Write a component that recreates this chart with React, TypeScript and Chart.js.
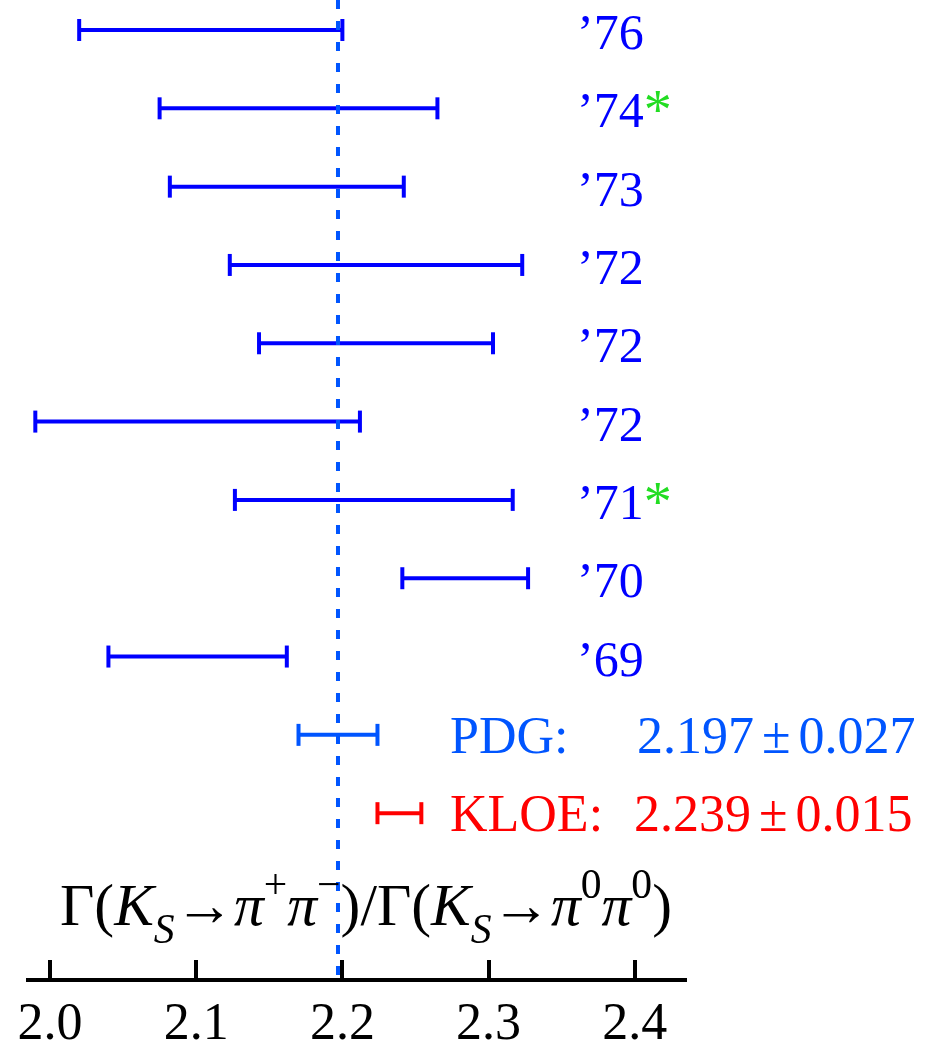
import { useEffect, useRef } from "react";
import { Chart, registerables } from "chart.js";

Chart.register(...registerables);

// Measurements, top to bottom
const rowLabels = ["’76", "’74", "’73", "’72", "’72", "’72", "’71", "’70", "’69"];
const flagged = [false, true, false, false, false, false, true, false, false];
const centers = [2.11, 2.17, 2.162, 2.223, 2.223, 2.101, 2.2215, 2.284, 2.101];
const errors = [0.09, 0.095, 0.08, 0.1, 0.08, 0.111, 0.095, 0.043, 0.061];

// Reference values
const pdgValue = 2.197;
const pdgError = 0.027;
const kloeValue = 2.239;
const kloeError = 0.015;

const xTicks = [2.0, 2.1, 2.2, 2.3, 2.4];
const xMin = 1.985;
const xMax = 2.435;
const yMin = -0.383;
const yMax = 12.13;

const SERIF = "'Liberation Serif', 'Times New Roman', serif";
const BLUE = "#0000ff";
const PDG_BLUE = "#0055ff";
const RED = "#ff0000";
const GREEN = "#22dd22";

function errorBar(c: number, e: number, row: number, color: string) {
  return {
    data: [
      { x: c - e, y: row },
      { x: c + e, y: row },
    ],
    showLine: true,
    borderColor: color,
    borderWidth: 4,
    pointStyle: "line",
    rotation: 90,
    pointRadius: 11,
    pointHoverRadius: 11,
    pointBorderWidth: 4,
    pointBorderColor: color,
    pointBackgroundColor: color,
  };
}

type Piece = { t: string; it?: boolean; pos?: "sub" | "sup" };

const titlePieces: Piece[] = [
  { t: "Γ(" },
  { t: "K", it: true },
  { t: "S", it: true, pos: "sub" },
  { t: "→" },
  { t: "π", it: true },
  { t: "+", pos: "sup" },
  { t: "π", it: true },
  { t: "−", pos: "sup" },
  { t: ")/Γ(" },
  { t: "K", it: true },
  { t: "S", it: true, pos: "sub" },
  { t: "→" },
  { t: "π", it: true },
  { t: "0", pos: "sup" },
  { t: "π", it: true },
  { t: "0", pos: "sup" },
  { t: ")" },
];

function pieceFont(p: Piece, size: number) {
  const s = p.pos ? size * 0.7 : size;
  return `${p.it ? "italic " : ""}${s}px ${SERIF}`;
}

function drawTitle(ctx: CanvasRenderingContext2D, left: number, right: number, baseline: number) {
  const base = 48;
  let total = 0;
  for (const p of titlePieces) {
    ctx.font = pieceFont(p, base);
    total += ctx.measureText(p.t).width;
  }
  const size = (base * (right - left)) / total;
  let x = left;
  ctx.fillStyle = "#000";
  ctx.textBaseline = "alphabetic";
  ctx.textAlign = "left";
  for (const p of titlePieces) {
    ctx.font = pieceFont(p, size);
    let yy = baseline;
    if (p.pos === "sub") yy += size * 0.3;
    if (p.pos === "sup") yy -= size * 0.45;
    ctx.fillText(p.t, x, yy);
    x += ctx.measureText(p.t).width;
  }
}

// value ± error, with the ± given a wide box like in math typesetting
function drawValue(ctx: CanvasRenderingContext2D, v: number, e: number, x: number, y: number) {
  const a = v.toFixed(3);
  const b = e.toFixed(3);
  ctx.fillText(a, x, y);
  let cx = x + ctx.measureText(a).width + 8;
  ctx.fillText("±", cx, y);
  cx += ctx.measureText("±").width + 8;
  ctx.fillText(b, cx, y);
}

const overlay = {
  id: "overlay",
  afterDraw(chart: any) {
    const { ctx, chartArea, scales } = chart;
    const xs = scales.x;
    const ys = scales.y;
    ctx.save();

    // tick marks pointing up from the axis line
    ctx.strokeStyle = "#000";
    ctx.lineWidth = 4;
    for (const v of xTicks) {
      const px = Math.round(xs.getPixelForValue(v));
      ctx.beginPath();
      ctx.moveTo(px, chartArea.bottom);
      ctx.lineTo(px, chartArea.bottom - 20);
      ctx.stroke();
    }

    // experiment years
    ctx.textAlign = "left";
    ctx.textBaseline = "alphabetic";
    rowLabels.forEach((lab, i) => {
      const py = ys.getPixelForValue(i);
      ctx.font = `50px ${SERIF}`;
      ctx.fillStyle = BLUE;
      ctx.fillText(lab, 577, py + 19);
      if (flagged[i]) {
        const w = ctx.measureText(lab).width;
        ctx.font = `56px ${SERIF}`;
        ctx.fillStyle = GREEN;
        ctx.fillText("*", 577 + w, py + 21);
      }
    });

    // reference values
    const pdgY = ys.getPixelForValue(rowLabels.length);
    const kloeY = ys.getPixelForValue(rowLabels.length + 1);
    ctx.font = `52px ${SERIF}`;
    ctx.fillStyle = PDG_BLUE;
    ctx.fillText("PDG:", 450, pdgY + 18);
    drawValue(ctx, pdgValue, pdgError, 637, pdgY + 18);
    ctx.fillStyle = RED;
    ctx.fillText("KLOE:", 450, kloeY + 18);
    drawValue(ctx, kloeValue, kloeError, 634, kloeY + 18);

    drawTitle(ctx, 60, 672, 925);
    ctx.restore();
  },
};

export default function App() {
  const ref = useRef<HTMLCanvasElement | null>(null);

  useEffect(() => {
    if (!ref.current) return;
    const datasets: any[] = rowLabels.map((_, i) => errorBar(centers[i], errors[i], i, BLUE));
    datasets.push(errorBar(pdgValue, pdgError, rowLabels.length, PDG_BLUE));
    datasets.push(errorBar(kloeValue, kloeError, rowLabels.length + 1, RED));
    datasets.push({
      data: [
        { x: pdgValue, y: yMin },
        { x: pdgValue, y: yMax },
      ],
      showLine: true,
      borderColor: PDG_BLUE,
      borderWidth: 4,
      borderDash: [9, 12],
      pointRadius: 0,
      order: -1,
    });

    const chart = new Chart(ref.current, {
      type: "scatter",
      data: { datasets },
      options: {
        animation: false,
        responsive: false,
        events: [],
        layout: { autoPadding: false, padding: { left: 28, right: 258, top: 0, bottom: 0 } },
        plugins: { legend: { display: false }, tooltip: { enabled: false } },
        scales: {
          x: {
            type: "linear",
            min: xMin,
            max: xMax,
            afterBuildTicks: (s: any) => {
              s.ticks = xTicks.map((v) => ({ value: v }));
            },
            afterFit: (s: any) => {
              s.height = 67;
            },
            grid: { display: false, drawTicks: false },
            border: { display: true, color: "#000", width: 4 },
            ticks: {
              color: "#000",
              font: { family: SERIF, size: 52 },
              padding: 14,
              maxRotation: 0,
              autoSkip: false,
              callback: (v: any) => Number(v).toFixed(1),
            },
          },
          y: {
            type: "linear",
            display: false,
            reverse: true,
            min: yMin,
            max: yMax,
          },
        },
      },
      plugins: [overlay],
    } as any);
    return () => chart.destroy();
  }, []);

  return (
    <div style={{ position: "absolute", left: 0, top: 0, width: 944, height: 1047, background: "#fff" }}>
      <canvas ref={ref} width={944} height={1047} style={{ display: "block" }} />
    </div>
  );
}
